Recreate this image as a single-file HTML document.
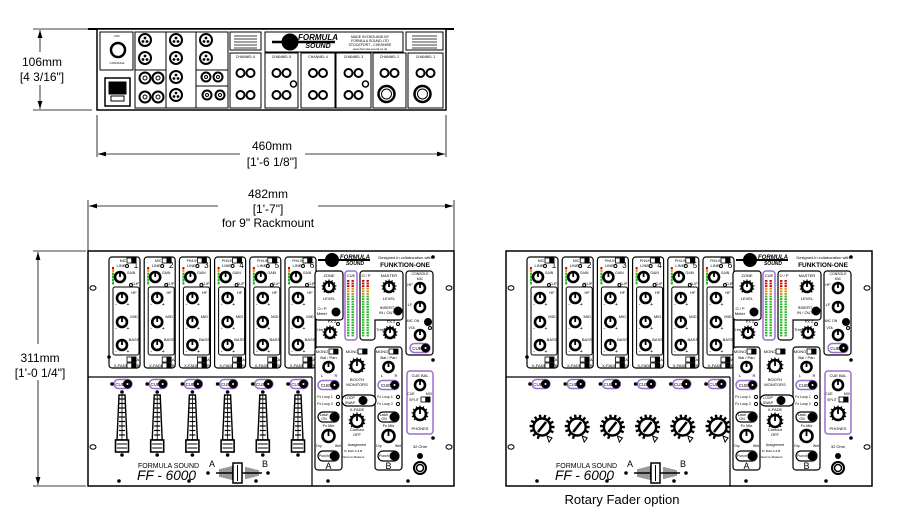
<!DOCTYPE html>
<html><head><meta charset="utf-8">
<style>
html,body{margin:0;padding:0;background:#fff;}
svg{display:block;font-family:"Liberation Sans",sans-serif;}
</style></head>
<body>
<svg id="s" width="915" height="532" viewBox="0 0 915 532" xmlns="http://www.w3.org/2000/svg">
<defs>
<marker id="ar" viewBox="0 0 10 6" refX="10" refY="3" markerWidth="10" markerHeight="6" orient="auto-start-reverse"><path d="M0,0 L10,3 L0,6 z" fill="#000"/></marker>
</defs>
<line x1="33" y1="29" x2="88" y2="29" stroke="#000" stroke-width="0.8"/>
<line x1="33" y1="110" x2="92" y2="110" stroke="#000" stroke-width="0.8"/>
<line x1="40" y1="30" x2="40" y2="52" stroke="#000" stroke-width="0.8" marker-start="url(#ar)"/>
<line x1="40" y1="85" x2="40" y2="109" stroke="#000" stroke-width="0.8" marker-end="url(#ar)"/>
<text x="42" y="66" font-size="12" text-anchor="middle">106mm</text>
<text x="42" y="81" font-size="12" text-anchor="middle">[4 3/16"]</text>
<line x1="97" y1="115" x2="97" y2="157" stroke="#000" stroke-width="0.8"/>
<line x1="446" y1="115" x2="446" y2="157" stroke="#000" stroke-width="0.8"/>
<line x1="98" y1="154" x2="240" y2="154" stroke="#000" stroke-width="0.8" marker-start="url(#ar)"/>
<line x1="305" y1="154" x2="445" y2="154" stroke="#000" stroke-width="0.8" marker-end="url(#ar)"/>
<text x="272" y="150" font-size="12" text-anchor="middle">460mm</text>
<text x="272" y="166" font-size="12" text-anchor="middle">[1'-6 1/8"]</text>
<line x1="88" y1="200" x2="88" y2="251" stroke="#000" stroke-width="0.8"/>
<line x1="454" y1="200" x2="454" y2="251" stroke="#000" stroke-width="0.8"/>
<line x1="89" y1="206" x2="218" y2="206" stroke="#000" stroke-width="0.8" marker-start="url(#ar)"/>
<line x1="318" y1="206" x2="453" y2="206" stroke="#000" stroke-width="0.8" marker-end="url(#ar)"/>
<text x="268" y="198" font-size="12" text-anchor="middle">482mm</text>
<text x="268" y="213" font-size="12" text-anchor="middle">[1'-7"]</text>
<text x="268" y="227" font-size="12" text-anchor="middle">for 9" Rackmount</text>
<line x1="33" y1="251" x2="86" y2="251" stroke="#000" stroke-width="0.8"/>
<line x1="33" y1="486" x2="86" y2="486" stroke="#000" stroke-width="0.8"/>
<line x1="38" y1="252" x2="38" y2="344" stroke="#000" stroke-width="0.8" marker-start="url(#ar)"/>
<line x1="38" y1="380" x2="38" y2="485" stroke="#000" stroke-width="0.8" marker-end="url(#ar)"/>
<text x="40" y="362" font-size="12" text-anchor="middle">311mm</text>
<text x="40" y="377" font-size="12" text-anchor="middle">[1'-0 1/4"]</text>
<text x="622" y="504" font-size="13" text-anchor="middle">Rotary Fader option</text>
<g id="rear"></g>
<g id="p1"></g>
<g id="p2"></g>
</svg>
<script>
var NS="http://www.w3.org/2000/svg";
function E(p,t,a,txt){var e=document.createElementNS(NS,t);for(var k in a)e.setAttribute(k,a[k]);if(txt!==undefined)e.textContent=txt;p.appendChild(e);return e;}
function R(p,x,y,w,h,o){o=o||{};return E(p,"rect",Object.assign({x:x,y:y,width:w,height:h,fill:"#fff",stroke:"#000","stroke-width":1},o));}
function C(p,x,y,r,o){o=o||{};return E(p,"circle",Object.assign({cx:x,cy:y,r:r,fill:"#fff",stroke:"#000","stroke-width":1},o));}
function L(p,x1,y1,x2,y2,w){return E(p,"line",{x1:x1,y1:y1,x2:x2,y2:y2,stroke:"#000","stroke-width":w||1});}
function T(p,x,y,s,t,o){o=o||{};return E(p,"text",Object.assign({x:x,y:y,"font-size":s,"text-anchor":"middle"},o),t);}
function knob(p,x,y,r,ticks){
  if(ticks){for(var i=0;i<11;i++){var a=(135+i*27)*Math.PI/180;L(p,x+Math.cos(a)*r,y+Math.sin(a)*r,x+Math.cos(a)*(r+2.5),y+Math.sin(a)*(r+2.5),1.2);}}
  C(p,x,y,r,{"stroke-width":2.6});L(p,x,y,x,y-r,1.8);
}
function cue(p,x,y,w,purple){
  E(p,"rect",{x:x-w/2,y:y-4.5,width:w,height:9,rx:4.5,fill:"#fff",stroke:purple?"#9b6fd0":"#000","stroke-width":1.5});
  T(p,x-3,y+2,4.5,"CUE");C(p,x+w/2-4.5,y,4,{fill:"#000"});C(p,x+w/2-4.5,y,1,{fill:"#fff",stroke:"none"});
}
function dot(p,x,y){C(p,x,y,1.8,{fill:"#000",stroke:"none"});}
function meter(p,x,y,h){for(var i=0;i<6;i++){var c=i<1?"#d00":i<2?"#e90":"#2b2";R(p,x,y+i*3,2,2.5,{fill:c,stroke:"none"});}}
function sw(p,x,y){R(p,x,y,9,5,{"stroke-width":0.8});R(p,x+4.5,y,4.5,5,{fill:"#000","stroke-width":0.5});}

(function(){
 var g=document.getElementById("rear");
 L(g,88,29,454,29,2);
 R(g,97,29,349,81,{"stroke-width":1.5});
 R(g,100,32,33,38);C(g,118,50,7,{"stroke-width":2.5});T(g,117,64,3,"CONSOLE");T(g,117,37,3,"MIC");
 R(g,105,78,25,28,{"stroke-width":1.5});R(g,109,82,17,12,{fill:"#000"});R(g,111,96,13,5);
 R(g,135,32,31,76);R(g,166,32,30,76);R(g,196,32,32,76);
 L(g,135,70,166,70);L(g,196,70,228,70);L(g,196,86,228,86);
 [[145,40],[145,58],[176,40],[176,58],[176,77],[176,95],[206,40],[206,58]].forEach(function(c){C(g,c[0],c[1],6,{"stroke-width":2});C(g,c[0],c[1]-2,0.9,{fill:"#000"});C(g,c[0]-2,c[1]+1.5,0.9,{fill:"#000"});C(g,c[0]+2,c[1]+1.5,0.9,{fill:"#000"});});
 [[145,78],[158,78],[145,97],[158,97]].forEach(function(c){C(g,c[0],c[1],5.5,{"stroke-width":2});C(g,c[0],c[1],2,{});});
 [[206,77],[218,77],[207,95],[220,95]].forEach(function(c){C(g,c[0],c[1],4.5,{"stroke-width":2});C(g,c[0],c[1],1.5);});
 R(g,230,32,31,18);for(var i=0;i<5;i++)L(g,234,36+i*3,257,36+i*3,0.8);
 R(g,265,32,138,20);C(g,290,42,8,{fill:"#000"});L(g,272,42,335,42,2.5);
 T(g,318,40,8,"FORMULA",{"font-weight":"bold","font-style":"italic"});T(g,318,48,7,"SOUND",{"font-weight":"bold","font-style":"italic"});
 T(g,370,38,3.5,"MADE IN ENGLAND BY");T(g,370,42,3.5,"FORMULA SOUND LTD");T(g,370,46,3.5,"STOCKPORT - CHESHIRE");T(g,370,50,3,"www.formula-sound.co.uk");
 R(g,406,32,37,18);for(var i=0;i<5;i++)L(g,412,36+i*3,437,36+i*3,0.8);
 var ch=[[230,261,"CHANNEL 6"],[265,298,"CHANNEL 5"],[301,335,"CHANNEL 4"],[336,371,"CHANNEL 3"],[373,406,"CHANNEL 2"],[408,443,"CHANNEL 1"]];
 ch.forEach(function(c,k){R(g,c[0],53,c[1]-c[0],55);var m=(c[0]+c[1])/2;T(g,m,58,3.5,c[2]);
  C(g,m-5,73,4,{"stroke-width":2});C(g,m+5,73,4,{"stroke-width":2});
  if(k<4){C(g,m-5,95,4,{"stroke-width":2});C(g,m+5,95,4,{"stroke-width":2});}else{C(g,m-3,94,8,{"stroke-width":2.5});C(g,m-3,94,5);}
  if(k==1||k==3)C(g,m+12,84,3,{"stroke-width":1.5});
 });
})();

function panel(g,dx,rotary){
 var X=function(x){return x+dx;};
 R(g,X(88),251,366,235,{"stroke-width":1.5});
 L(g,X(88),377,X(312),377,1.2);L(g,X(312),377,X(312),486,1.2);
 [[93,288],[93,447],[449,288],[449,447]].forEach(function(h){E(g,"ellipse",{cx:X(h[0]),cy:h[1],rx:3,ry:2.2,fill:"#fff",stroke:"#000","stroke-width":1});});
 for(var i=0;i<6;i++){
  var x0=X(109+i*35.2),cx=x0+13;
  E(g,"path",{d:"M"+(x0+3)+",257 H"+(x0+28)+" a3,3 0 0 1 3,3 V365 a3,3 0 0 1 -3,3 H"+(x0+3)+" a3,3 0 0 1 -3,-3 V260 a3,3 0 0 1 3,-3z",fill:"#fff",stroke:"#000","stroke-width":1.2});
  E(g,"path",{d:"M"+(x0+6)+",287 H"+(x0+28)+" a2,2 0 0 1 2,2 V353 a2,2 0 0 1 -2,2 H"+(x0+6)+" a2,2 0 0 1 -2,-2 V289 a2,2 0 0 1 2,-2z",fill:"none",stroke:"#000","stroke-width":1});
  T(g,x0+14,262,3.5,i<2?"MIC":"PH/LINE");sw(g,x0+18,258);
  T(g,x0+12,267,4,"LINE");C(g,x0+18,266,1.5);T(g,x0+27,268,8,String(i+1));
  meter(g,x0+3,267);
  knob(g,x0+11,277,5,false);T(g,x0+22,274,3.5,"GAIN");
  C(g,x0+22,285,1.5);T(g,x0+26,285,3.5,"CLIP");
  [[298,"HF"],[322,"MID"],[345,"BASS"]].forEach(function(k){knob(g,x0+13,k[0],5,false);T(g,x0+25,k[0]-4,4,k[1]);T(g,x0+7,k[0]+8,5,"-");T(g,x0+19,k[0]+8,5,"+");});
  sw(g,x0+18,357);T(g,x0+29,361,4,"A");T(g,x0+12,367,4,"X-FADE");sw(g,x0+18,363);T(g,x0+29,367,4,"B");
  if(i==0)dot(g,x0,357);
  cue(g,X(123+i*35.2),384,18,true);dot(g,X(112+i*35.2),384);
  if(!rotary){
   var fx=X(122+i*35.2);dot(g,fx,392);
   E(g,"path",{d:"M"+(fx-3)+",395 L"+(fx+3)+",395 L"+(fx+5)+",440 L"+(fx-5)+",440z",fill:"#fff",stroke:"#000","stroke-width":1.4});
   for(var j=0;j<9;j++)L(g,fx-3,399+j*4.5,fx+3,399+j*4.5,1.2);
   L(g,fx,395,fx,440,0.8);
   R(g,fx-6.5,440,13,12,{"stroke-width":1.6});L(g,fx-5,444,fx+5,444);L(g,fx-5,448,fx+5,448);
   dot(g,fx,455);
  }else{
   var rx=X(124+i*35.2);
   for(var j=0;j<12;j++){var a=(110+j*25)*Math.PI/180;L(g,rx+Math.cos(a)*8.5,427+Math.sin(a)*8.5,rx+Math.cos(a)*12.5,427+Math.sin(a)*12.5,2.4);}
   C(g,rx,427,8.5,{"stroke-width":2.4});L(g,rx-4,432,rx+4,422,2.6);
   E(g,"path",{d:"M"+(rx+5)+","+(436)+" l5,2 l-3,4z",fill:"#fff",stroke:"#000"});
  }
 }
 dot(g,X(112+6*35.2-3),384);
 T(g,X(138),468,7,"FORMULA SOUND",{"text-anchor":"start"});
 T(g,X(137),480,14,"FF - 6000",{"text-anchor":"start","font-style":"italic","textLength":"59","lengthAdjust":"spacingAndGlyphs"});
 T(g,X(212),467,9,"A");T(g,X(265),467,9,"B");dot(g,X(208),473);dot(g,X(268),473);
 L(g,X(216),473,X(262),473,1.5);
 for(var j=0;j<7;j++){L(g,X(220+j*2),469-j*0.5,X(220+j*2),477+j*0.5,0.8);L(g,X(246+j*2),467+j*0.5,X(246+j*2),479-j*0.5,0.8);}
 R(g,X(233),463,9,20,{"stroke-width":1.5});L(g,X(237.5),465,X(237.5),481);
 [119,189,256,328,408].forEach(function(x){dot(g,X(x),481);});
 C(g,X(332),260,6.5,{fill:"#000"});L(g,X(318),260,X(370),260,2);
 T(g,X(355),259,6,"FORMULA",{"font-weight":"bold","font-style":"italic"});T(g,X(355),265,5,"SOUND",{"font-weight":"bold","font-style":"italic"});
 T(g,X(405),259,4,"Designed in collaboration with");dot(g,X(433),257);
 T(g,X(405),267,6.5,"FUNKTION-ONE",{"font-weight":"bold"});
 E(g,"rect",{x:X(315),y:271,width:28,height:49,rx:3,fill:"#fff",stroke:"#000","stroke-width":1.2});
 T(g,X(329),277,4,"ZONE");knob(g,X(329),287,5,true);T(g,X(329),300,4,"LEVEL");
 T(g,X(322),310,4,"O / P");T(g,X(322),315,4,"Meter");C(g,X(336),312,4,{fill:"#000"});
 T(g,X(319),331,4,"Trim");T(g,X(332),323,4,"FX 2");knob(g,X(330),333,5,true);C(g,X(338),324,1.5);
 E(g,"rect",{x:X(345),y:271,width:12,height:69,rx:3,fill:"#fff",stroke:"#9b6fd0","stroke-width":1.5});
 T(g,X(351),277,4,"CUE");
 function bar(x){for(var j=0;j<22;j++){var c=j<3?"#c00":j<6?"#d80":"#2b2";R(g,x,280+j*2.6,2.4,1.8,{fill:c,stroke:"none"});R(g,x+4.5,280+j*2.6,2.4,1.8,{fill:c,stroke:"none"});}}
 bar(X(347));
 E(g,"path",{d:"M"+X(363)+",271 H"+X(400)+" a3,3 0 0 1 3,3 V317 a3,3 0 0 1 -3,3 H"+X(375)+" V337 a3,3 0 0 1 -3,3 H"+X(363)+" a3,3 0 0 1 -3,-3 V274 a3,3 0 0 1 3,-3z",fill:"#fff",stroke:"#000","stroke-width":1.2});
 T(g,X(366),277,4,"O / P");bar(X(362));
 T(g,X(389),277,4,"MASTER");knob(g,X(389),287,5,true);T(g,X(389),300,4,"LEVEL");
 T(g,X(387),309,4,"INSERT");T(g,X(387),314,4,"IN / OUT");C(g,X(398),311,4,{fill:"#000"});
 T(g,X(380),331,4,"Trim");T(g,X(391),323,4,"FX 2");knob(g,X(390),333,5,true);C(g,X(398),324,1.5);
 E(g,"rect",{x:X(406),y:271,width:27,height:84,rx:3,fill:"#fff",stroke:"#000","stroke-width":1.2});
 T(g,X(420),275,3.5,"CONSOLE");T(g,X(420),280,3.5,"MIC");
 T(g,X(410),286,4,"HF");knob(g,X(420),288,5,false);T(g,X(410),306,4,"LF");knob(g,X(420),307,5,false);
 T(g,X(413),322,3.5,"MIC ON");C(g,X(428),322,3.5,{fill:"#000"});T(g,X(412),329,3.5,"VOL");C(g,X(430),328,1.5);
 knob(g,X(420),335,5,false);cue(g,X(420),348,20,true);dot(g,X(433),360);
 [[315,"A"],[375,"B"]].forEach(function(s){var x0=X(s[0]),m=x0+13.5;
  E(g,"rect",{x:x0,y:347,width:27,height:123,rx:3,fill:"#fff",stroke:"#000","stroke-width":1.2});
  T(g,x0+7,353,4,"MONO");sw(g,x0+14,349);T(g,m,359,4,"Bal / Pan");
  knob(g,m,367,5,false);T(g,x0+7,377,4,"L");T(g,x0+21,377,4,"R");
  cue(g,m,385,21,true);
  T(g,x0+10,398,3.5,"Fx Loop 1");C(g,x0+23,397,1.6);T(g,x0+10,405,3.5,"Fx Loop 2");C(g,x0+23,404,1.6);
  E(g,"rect",{x:x0+3,y:412,width:21,height:10,rx:5,fill:"#fff",stroke:"#000","stroke-width":1.2});T(g,x0+9,416,3.5,"Latch");T(g,x0+9,420,3.5,"ON");C(g,x0+19,417,4,{fill:"#000"});
  T(g,m,427,4,"Fx Mix");knob(g,m,436,6,false);T(g,x0+4,447,3.5,"Dry");T(g,x0+23,447,3.5,"Wet");
  E(g,"rect",{x:x0+3,y:451,width:21,height:10,rx:5,fill:"#fff",stroke:"#000","stroke-width":1.2});T(g,x0+9,457,3.5,"Punch");C(g,x0+19,456,4,{fill:"#000"});
  T(g,m,469,9,s[1]);
 });
 T(g,X(352),353,4,"MONO");sw(g,X(358),349);knob(g,X(357),366,6,true);T(g,X(357),381,4,"BOOTH");T(g,X(357),386,4,"MONITORS");
 E(g,"rect",{x:X(342),y:395,width:34,height:11,rx:5.5,fill:"#fff",stroke:"#000","stroke-width":1.2});
 T(g,X(350),399,3.5,"LOOP");T(g,X(350),404,3.5,"SWAP");C(g,X(363),400.5,4,{fill:"#000"});
 T(g,X(357),411,4,"X-FADE");knob(g,X(357),421,6,true);T(g,X(357),431,4,"Contour");T(g,X(357),436,4,"OFF");
 T(g,X(357),446,3.5,"Assignment");T(g,X(353),452,3,"To Both A & B");T(g,X(353),458,3,"Direct to Masters");
 E(g,"rect",{x:X(407),y:371,width:26,height:63,rx:3,fill:"#fff",stroke:"#9b6fd0","stroke-width":1.5});
 T(g,X(420),377,4,"CUE BAL");knob(g,X(420),385,5,false);T(g,X(411),395,3.5,"CUE");T(g,X(429),395,3.5,"MIX");
 T(g,X(414),401,3.5,"SPLIT");sw(g,X(421),397);knob(g,X(420),414,6,true);T(g,X(420),430,4,"PHONES");
 dot(g,X(433),438);
 T(g,X(420),448,4,"32 Ohm");C(g,X(420),456,2.5,{fill:"#000"});C(g,X(420),468,6,{"stroke-width":2});C(g,X(420),468,3.5,{"stroke-width":1.5});
}
panel(document.getElementById("p1"),0,false);
panel(document.getElementById("p2"),418,true);
</script>
</body></html>
